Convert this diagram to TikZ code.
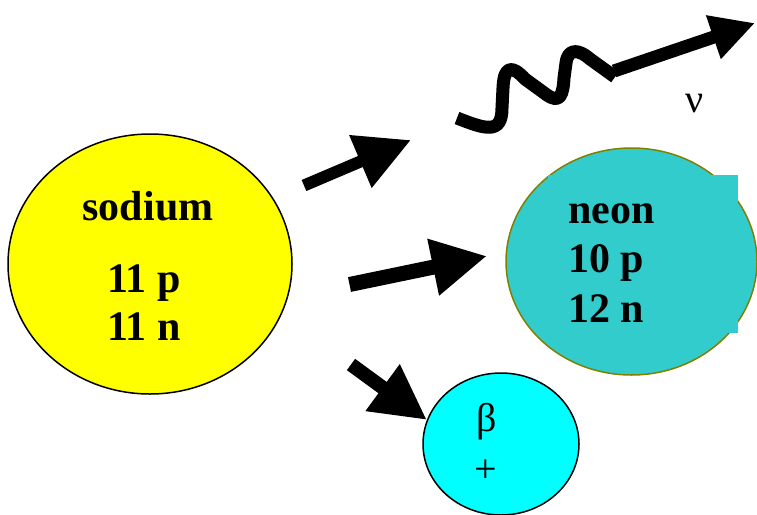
\documentclass[tikz,border=0pt]{standalone}
\usepackage{fontspec}
\setmainfont{Liberation Serif}
\usetikzlibrary{arrows.meta,shapes.geometric}
\definecolor{sodiumyellow}{HTML}{FFFF00}
\definecolor{neonteal}{HTML}{33CCCC}
\definecolor{neonedge}{HTML}{808000}
\definecolor{betacyan}{HTML}{00FFFF}

\begin{document}
\begin{tikzpicture}[x=1pt, y=-1pt,
  blob/.style={ellipse, draw=black, line width=1.5pt, inner sep=0pt},
  lbl/.style={inner sep=0pt, anchor=base west, font=\fontsize{42}{48}\selectfont\bfseries},
  sym/.style={inner sep=0pt, anchor=base, font=\fontsize{40}{46}\selectfont},
  fat/.style={line width=#1, -{Triangle[length=55pt, width=54pt]}}]
  \useasboundingbox (0,0) rectangle (757,514);

  %nuclei
  \node[blob, fill=sodiumyellow, minimum width=284pt, minimum height=260pt] (sodium) at (150,264) {};
  \node[blob, fill=neonteal, draw=neonedge, minimum width=251pt, minimum height=227pt] (neon) at (631.5,261.5) {};
  \node[fill=neonteal, minimum width=190pt, minimum height=158pt, inner sep=0pt] (nbox) at (643,254) {};
  \node[blob, fill=betacyan, minimum width=156pt, minimum height=142pt] (beta) at (501,444) {};

  %sodium
  \node[lbl, anchor=base] (na) at (148,220) {sodium};
  \node[lbl] (nap) at (107,292) {11 p};
  \node[lbl] (nan) at (107,340) {11 n};

  %neon
  \node[lbl] (ne) at (568,223) {neon};
  \node[lbl] (nep) at (568,272) {10 p};
  \node[lbl] (nen) at (568,322) {12 n};

  %beta plus and neutrino
  \node[sym] (b) at (487,431) {β};
  \node[sym] (bp) at (486,482) {+};
  \node[sym] (nu) at (695,112) {ν};

  %arrows
  \coordinate (a1s) at (304,185.5);
  \coordinate (a1e) at (411,140);
  \coordinate (a2s) at (349.5,284.5);
  \coordinate (a2e) at (487,256);
  \coordinate (a3s) at (351,364.5);
  \coordinate (a3e) at (427,420);
  \coordinate (w0) at (457,118);
  \coordinate (w1) at (615,77);
  \coordinate (a4s) at (614,71);
  \coordinate (a4e) at (755,23);

  \draw[fat=12pt] (a1s) -- (a1e);
  \draw[fat=15pt] (a2s) -- (a2e);
  \draw[fat=14pt] (a3s) -- (a3e);

  %photon
  \draw[line width=13pt, line cap=butt, line join=round]
    (w0) .. controls (485,129) and (502,135) .. (502,108)
    -- (503,88) .. controls (504,64) and (513,66) .. (525,79)
    -- (547,95) .. controls (560,104) and (563,95) .. (564,78)
    -- (566,63) .. controls (568,47) and (580,50) .. (590,59)
    -- (w1);
  \draw[line width=13pt, -{Triangle[length=44pt, width=43pt]}] (a4s) -- (a4e);
\end{tikzpicture}
\end{document}
